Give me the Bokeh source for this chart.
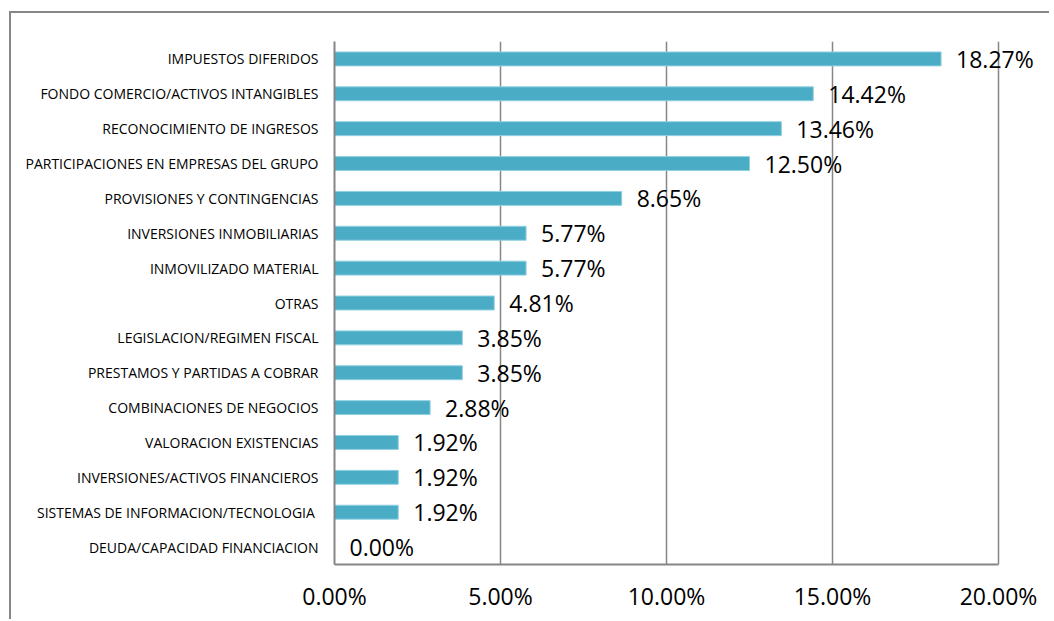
from bokeh.plotting import figure
from bokeh.models import ColumnDataSource, LabelSet, NumeralTickFormatter, FactorRange, FixedTicker
from bokeh.core.properties import value
from bokeh.embed import file_html
from bokeh.resources import INLINE

categories = [
    "IMPUESTOS DIFERIDOS",
    "FONDO COMERCIO/ACTIVOS INTANGIBLES",
    "RECONOCIMIENTO DE INGRESOS",
    "PARTICIPACIONES EN EMPRESAS DEL GRUPO",
    "PROVISIONES Y CONTINGENCIAS",
    "INVERSIONES INMOBILIARIAS",
    "INMOVILIZADO MATERIAL",
    "OTRAS",
    "LEGISLACION/REGIMEN FISCAL",
    "PRESTAMOS Y PARTIDAS A COBRAR",
    "COMBINACIONES DE NEGOCIOS",
    "VALORACION EXISTENCIAS",
    "INVERSIONES/ACTIVOS FINANCIEROS",
    "SISTEMAS DE INFORMACION/TECNOLOGIA ",
    "DEUDA/CAPACIDAD FINANCIACION",
]
values_pct = [18.27, 14.42, 13.46, 12.50, 8.65, 5.77, 5.77, 4.81, 3.85, 3.85, 2.88, 1.92, 1.92, 1.92, 0.00]
x_ticks = [0.0, 0.05, 0.10, 0.15, 0.20]

src = ColumnDataSource(dict(
    cat=categories,
    val=[v / 100 for v in values_pct],
    lab=[f"{v:.2f}%" for v in values_pct],
))

GRAY = "#868686"
FONT = "Open Sans"

# layout in pixels
W, H = 1040, 608
ML, MT = 9, 11           # outer offsets of the bordered box
B_LEFT, B_TOP, B_BOTTOM, B_RIGHT = 323, 28, 57, 4
frame_w = W - B_LEFT - B_RIGHT
axis_px = 664            # width covered by 0..20%
x_end = 0.20 * frame_w / axis_px

p = figure(
    y_range=FactorRange(*reversed(categories)),
    x_range=(0, x_end),
    width=W, height=H,
    output_backend="svg", toolbar_location=None,
    min_border_left=B_LEFT, min_border_right=B_RIGHT,
    min_border_top=B_TOP, min_border_bottom=B_BOTTOM,
)
p.styles = {"border-left": f"2px solid {GRAY}", "border-top": f"2px solid {GRAY}",
            "margin-left": f"{ML}px", "margin-top": f"{MT}px"}
p.outline_line_color = None

p.hbar(y="cat", right="val", left=0, height=0.40, source=src,
       fill_color="#4BACC6", line_color="#8fd0e0", line_width=1)

labels = LabelSet(x="val", y="cat", text="lab", source=src, x_offset=15, y_offset=0,
                  text_baseline="middle", text_align="left", text_font_size="23px",
                  text_font=value(FONT), text_color="#000000", level="overlay")
p.add_layout(labels)

p.xaxis.ticker = FixedTicker(ticks=x_ticks)
p.xaxis.bounds = (0, 0.20)
p.xaxis.formatter = NumeralTickFormatter(format="0.00%")
p.xaxis.major_label_text_font_size = "23px"
p.xaxis.major_label_text_font = FONT
p.xaxis.major_label_text_color = "#000000"
p.xaxis.major_label_standoff = 9
p.xaxis.axis_line_color = GRAY
p.xaxis.axis_line_width = 2
p.xaxis.major_tick_line_color = None
p.xaxis.minor_tick_line_color = None

p.yaxis.major_label_text_font_size = "14px"
p.yaxis.major_label_text_font = FONT
p.yaxis.major_label_text_color = "#000000"
p.yaxis.major_label_standoff = 10
p.yaxis.axis_line_color = GRAY
p.yaxis.axis_line_width = 2
p.yaxis.major_tick_line_color = None
p.yaxis.minor_tick_line_color = None

p.xgrid.grid_line_color = GRAY
p.xgrid.grid_line_width = 1.5
p.xgrid.ticker = FixedTicker(ticks=x_ticks)
p.ygrid.grid_line_color = None

open("out.html", "w").write(file_html(p, INLINE))
